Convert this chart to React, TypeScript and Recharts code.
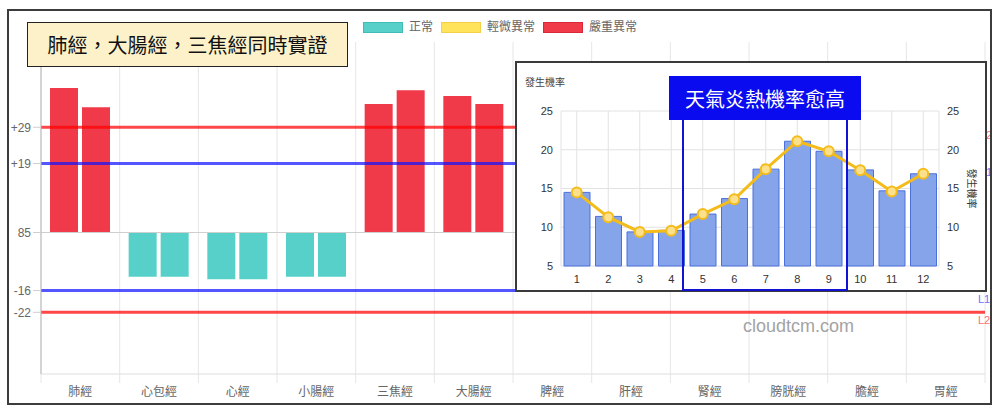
import React from 'react';
import {
  BarChart,
  Bar,
  XAxis,
  YAxis,
  CartesianGrid,
  ReferenceLine,
  Cell,
  ComposedChart,
  Line,
} from 'recharts';

// ---------- main chart data ----------
const meridians = ['肺經', '心包經', '心經', '小腸經', '三焦經', '大腸經', '脾經', '肝經', '腎經', '膀胱經', '膽經', '胃經'];
const leftValues: (number | null)[] = [39.8, -12.2, -12.9, -12.2, 35.4, 37.6, null, null, null, null, null, null];
const rightValues: (number | null)[] = [34.5, -12.2, -12.9, -12.2, 39.2, 35.4, null, null, null, null, null, null];
const yTicks = [-22, -16, 0, 19, 29];
const yTickLabels: Record<number, string> = { 29: '+29', 19: '+19', 0: '85', [-16]: '-16', [-22]: '-22' };
const upperSevere = 29;
const upperMild = 19;
const lowerMild = -16;
const lowerSevere = -22;
const legendItems = ['正常', '輕微異常', '嚴重異常'];

// ---------- inset chart data ----------
const months = ['1', '2', '3', '4', '5', '6', '7', '8', '9', '10', '11', '12'];
const barRates = [14.5, 11.4, 9.4, 9.6, 11.7, 13.7, 17.5, 21.1, 19.8, 17.4, 14.7, 16.9];
const lineRates = [14.5, 11.3, 9.4, 9.55, 11.7, 13.6, 17.5, 21.1, 19.8, 17.35, 14.6, 16.9];
const rateTicks = [5, 10, 15, 20, 25];

const mainData = meridians.map((name, i) => ({ name, left: leftValues[i], right: rightValues[i] }));
const insetData = months.map((m, i) => ({ month: m, bar: barRates[i], line: lineRates[i] }));

const TEAL = '#56D0C8';
const YELLOW = '#FFE35A';
const RED = '#F03A4A';
const legendColors = [TEAL, YELLOW, RED];
const legendBorders = ['#3FBDB4', '#F2D04A', '#D8283A'];
const GRID = '#e6e6e6';

const colorFor = (v: number | null) => {
  if (v === null) return 'transparent';
  if (v >= upperSevere || v <= lowerSevere) return RED;
  if (v >= upperMild || v <= lowerMild) return YELLOW;
  return TEAL;
};

const edgeLabel = (text: string, color: string) => (props: any) => {
  const vb = props.viewBox || {};
  return (
    <text x={vb.x + vb.width - 7} y={vb.y + 12} fill={color} fontSize={11}>
      {text}
    </text>
  );
};

// category tick: label plus boundary tick marks (grid extends below the axis)
const CatTick = (props: any) => {
  const { x, y, payload, index, visibleTicksCount } = props;
  const half = typeof payload?.offset === 'number' && payload.offset > 0 ? payload.offset : 39.33;
  const axisY = y - 13;
  const isLast = index === (visibleTicksCount ?? meridians.length) - 1;
  return (
    <g>
      <line x1={x - half} x2={x - half} y1={axisY} y2={axisY + 9} stroke={GRID} />
      {isLast && <line x1={x + half} x2={x + half} y1={axisY} y2={axisY + 9} stroke={GRID} />}
      <text x={x} y={y} dy="0.71em" textAnchor="middle" fill="#666" fontSize={12}>
        {payload.value}
      </text>
    </g>
  );
};

const boundaryGenerator = (p: any) => {
  const off = p?.offset || {};
  const left = off.left ?? 41;
  const width = off.width ?? 944;
  return meridians.map((_, i) => left + (i * width) / meridians.length).concat([left + width]);
};

const FONT = "'Liberation Sans', 'Noto Sans CJK TC', sans-serif";

export default function App() {
  return (
    <div style={{ position: 'absolute', left: 0, top: 0, width: 1000, height: 414, background: '#fff', fontFamily: FONT, overflow: 'hidden' }}>
      <div style={{ position: 'absolute', left: 0, top: 0 }}>
        <BarChart width={1000} height={414} data={mainData} margin={{ top: 42, right: 15, left: 0, bottom: 0 }} barGap={4} barSize={28}>
          <CartesianGrid xAxisId="cat" stroke={GRID} horizontal={false} verticalCoordinatesGenerator={boundaryGenerator} />
          <XAxis
            xAxisId="cat"
            dataKey="name"
            height={40}
            tickLine={false}
            tickSize={0}
            tickMargin={13}
            axisLine={{ stroke: '#dedede' }}
            tick={<CatTick />}
            interval={0}
          />
          <YAxis
            width={41}
            domain={[-39, 52.5]}
            ticks={yTicks}
            allowDataOverflow
            tickFormatter={(v: number) => yTickLabels[v] ?? String(v)}
            tick={{ fill: '#666', fontSize: 12 }}
            tickSize={8}
            tickMargin={2}
            tickLine={{ stroke: '#cfcfcf' }}
            axisLine={{ stroke: '#b5b5b5' }}
          />
          <ReferenceLine xAxisId="cat" y={0} stroke="#cfcfcf" strokeWidth={1} />
          <Bar xAxisId="cat" dataKey="left" isAnimationActive={false}>
            {mainData.map((d, i) => (
              <Cell key={`l${i}`} fill={colorFor(d.left)} />
            ))}
          </Bar>
          <Bar xAxisId="cat" dataKey="right" isAnimationActive={false}>
            {mainData.map((d, i) => (
              <Cell key={`r${i}`} fill={colorFor(d.right)} />
            ))}
          </Bar>
          <ReferenceLine xAxisId="cat" y={upperSevere} stroke="rgba(255,0,0,0.72)" strokeWidth={3} label={edgeLabel('U2', '#ff7070')} />
          <ReferenceLine xAxisId="cat" y={upperMild} stroke="rgba(20,20,255,0.72)" strokeWidth={3} label={edgeLabel('U1', '#7070ff')} />
          <ReferenceLine xAxisId="cat" y={lowerMild} stroke="rgba(20,20,255,0.72)" strokeWidth={3} label={edgeLabel('L1', '#7070ff')} />
          <ReferenceLine xAxisId="cat" y={lowerSevere} stroke="rgba(255,0,0,0.72)" strokeWidth={3} label={edgeLabel('L2', '#ff7070')} />
        </BarChart>
      </div>

      {/* outer frame */}
      <div style={{ position: 'absolute', left: 7, top: 9, width: 985, height: 396, boxSizing: 'border-box', border: '2px solid #3c3c3c', pointerEvents: 'none' }} />

      {/* legend */}
      <div style={{ position: 'absolute', left: 363, top: 19, display: 'flex', alignItems: 'center', fontSize: 12, color: '#666', lineHeight: '16px' }}>
        {legendItems.map((t, i) => (
          <div key={t} style={{ display: 'flex', alignItems: 'center', marginRight: 8 }}>
            <div style={{ width: 40, height: 11, boxSizing: 'border-box', background: legendColors[i], border: `1px solid ${legendBorders[i]}`, marginRight: 6 }} />
            <span>{t}</span>
          </div>
        ))}
      </div>

      {/* yellow title */}
      <div style={{ position: 'absolute', left: 27, top: 22, width: 321, height: 45, boxSizing: 'border-box', border: '1.5px solid #222', background: '#FDF1C9', display: 'flex', alignItems: 'center', justifyContent: 'center', fontSize: 20, color: '#111', fontFamily: "'Noto Sans CJK TC', sans-serif" }}>
        肺經，大腸經，三焦經同時實證
      </div>

      {/* inset chart */}
      <div style={{ position: 'absolute', left: 515, top: 61, width: 472, height: 231, boxSizing: 'border-box', border: '2px solid #3a3a3a', background: '#fff' }}>
        <div style={{ position: 'absolute', left: 8, top: 11, fontSize: 10, color: '#444', fontFamily: "'Noto Sans CJK TC', sans-serif" }}>發生機率</div>
        <ComposedChart width={468} height={227} data={insetData} margin={{ top: 48, right: 0, left: 0, bottom: 0 }} barSize={26}>
          <CartesianGrid stroke="#e2e2e2" yAxisId="left" />
          <XAxis dataKey="month" height={24} tickLine={false} axisLine={false} tickSize={0} tickMargin={9} tick={{ fill: '#333', fontSize: 11 }} interval={0} />
          <YAxis yAxisId="left" width={44} domain={[5, 25]} ticks={rateTicks} tickLine={false} axisLine={false} tickSize={0} tickMargin={8} tick={{ fill: '#333', fontSize: 11 }} />
          <YAxis
            yAxisId="right"
            orientation="right"
            width={46}
            domain={[5, 25]}
            ticks={rateTicks}
            tickLine={false}
            axisLine={false}
            tickSize={0}
            tickMargin={8}
            tick={{ fill: '#333', fontSize: 11 }}
            label={{ value: '發生機率', angle: 90, position: 'center', dx: 10, fill: '#333', fontSize: 10 }}
          />
          <Bar yAxisId="left" dataKey="bar" fill="#86A4EA" stroke="#4C70DA" strokeWidth={1} isAnimationActive={false} />
          <Line
            yAxisId="right"
            dataKey="line"
            stroke="#F3BC1A"
            strokeWidth={3}
            dot={{ r: 5, fill: '#FCE08C', stroke: '#F3BC1A', strokeWidth: 2 }}
            isAnimationActive={false}
          />
        </ComposedChart>
      </div>

      {/* highlighted months box */}
      <div style={{ position: 'absolute', left: 682, top: 118, width: 166, height: 173, boxSizing: 'border-box', border: '2px solid #1212D2', pointerEvents: 'none' }} />
      <div style={{ position: 'absolute', left: 669, top: 76, width: 192, height: 44, background: '#0B0BF0', color: '#fff', display: 'flex', alignItems: 'center', justifyContent: 'center', fontSize: 20, fontFamily: "'Noto Sans CJK TC', sans-serif" }}>
        天氣炎熱機率愈高
      </div>

      {/* watermark */}
      <div style={{ position: 'absolute', left: 743, top: 316, fontSize: 18, lineHeight: '20px', color: '#a3a3a3', fontFamily: "'Liberation Sans', sans-serif" }}>cloudtcm.com</div>
    </div>
  );
}
